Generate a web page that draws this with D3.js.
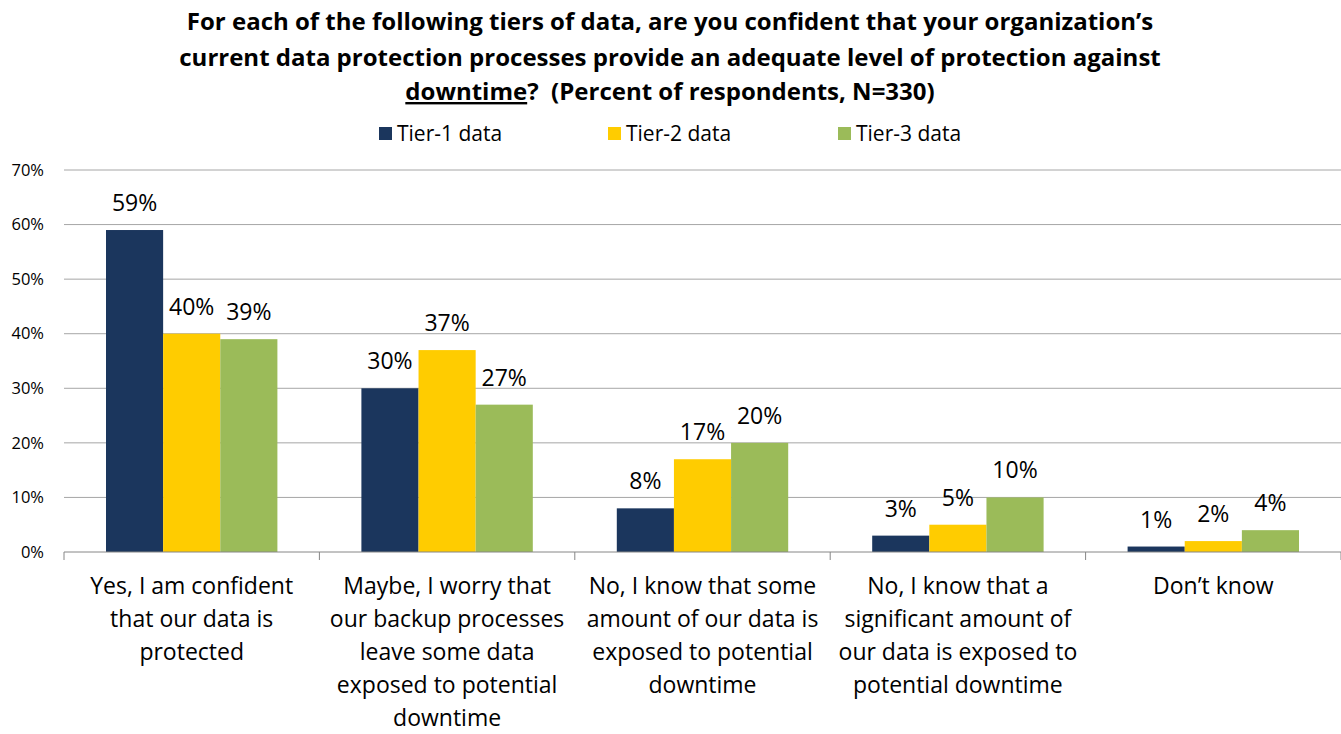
<!DOCTYPE html>
<html>
<head>
<meta charset="utf-8">
<script src="https://cdn.jsdelivr.net/npm/d3@7"></script>
<style>
  body { margin: 0; background: #fff; }
  svg { display: block; font-family: "Open Sans", sans-serif; }
</style>
</head>
<body>
<div id="chart"></div>
<script>
// data
const categories = [
    ["Yes, I am confident", "that our data is", "protected"],
    ["Maybe, I worry that", "our backup processes", "leave some data", "exposed to potential", "downtime"],
    ["No, I know that some", "amount of our data is", "exposed to potential", "downtime"],
    ["No, I know that a", "significant amount of", "our data is exposed to", "potential downtime"],
    ["Don\u2019t know"]
]
const seriesNames = ["Tier-1 data", "Tier-2 data", "Tier-3 data"]
const tier1 = [59, 30, 8, 3, 1]
const tier2 = [40, 37, 17, 5, 2]
const tier3 = [39, 27, 20, 10, 4]
const yTicks = [0, 10, 20, 30, 40, 50, 60, 70]
const colors = ["#1b365d", "#ffcc00", "#9bbb59"]

let W = 1341, H = 734
let margin = { top: 170, right: 0, bottom: 182, left: 64 }
let width = W - margin.left - margin.right
let height = H - margin.top - margin.bottom

const svg = d3.select("#chart").append("svg")
    .attr("width", W)
    .attr("height", H)

// title
const title = svg.append("text")
    .attr("text-anchor", "middle")
    .attr("font-weight", "bold")
    .attr("font-size", 24)
    .attr("fill", "#000")
title.append("tspan").attr("x", 670).attr("y", 30)
    .text("For each of the following tiers of data, are you confident that your organization\u2019s")
title.append("tspan").attr("x", 670).attr("y", 66)
    .text("current data protection processes provide an adequate level of protection against")
const t3 = title.append("tspan").attr("x", 670).attr("y", 100)
t3.append("tspan").attr("text-decoration", "underline").text("downtime")
t3.append("tspan").text("?\u00a0 (Percent of respondents, N=330)")

// legend
const legendX = [379, 608, 838]
const legend = svg.append("g")
seriesNames.forEach((name, i) => {
    legend.append("rect")
        .attr("x", legendX[i]).attr("y", 127)
        .attr("width", 13).attr("height", 13)
        .attr("fill", colors[i])
    legend.append("text")
        .attr("x", legendX[i] + 18).attr("y", 141)
        .attr("font-size", 21)
        .text(name)
})

const g = svg.append("g")
    .attr("transform", "translate(" + margin.left + "," + margin.top + ")")

let x0 = d3.scaleBand()
    .domain(d3.range(categories.length))
    .range([0, width])

let x1 = d3.scaleBand()
    .domain(d3.range(seriesNames.length))
    .range([42, x0.bandwidth() - 42])

let y = d3.scaleLinear()
    .domain([0, 70])
    .range([height, 0])

// gridlines
g.append("g")
    .selectAll("line")
    .data(yTicks.slice(1))
    .enter().append("line")
    .attr("x1", 0).attr("x2", width)
    .attr("y1", d => y(d)).attr("y2", d => y(d))
    .attr("stroke", "#a6a6a6")
    .attr("stroke-width", 1)

// y axis labels
const yAxis = g.append("g")
    .call(d3.axisLeft(y).tickValues(yTicks).tickFormat(d => d + "%").tickSize(0).tickPadding(20))
yAxis.select(".domain").remove()
yAxis.selectAll("text")
    .attr("font-size", 16.5)
    .attr("font-family", "'Open Sans', sans-serif")
    .attr("fill", "#000")

const seriesData = [tier1, tier2, tier3]

// bars
const groups = g.selectAll(".grp")
    .data(categories.map((c, i) => i))
    .enter().append("g")
    .attr("transform", d => "translate(" + x0(d) + ",0)")

groups.selectAll("rect")
    .data(ci => seriesData.map((s, si) => ({ si: si, v: s[ci] })))
    .enter().append("rect")
    .attr("x", d => x1(d.si))
    .attr("y", d => y(d.v))
    .attr("width", x1.bandwidth())
    .attr("height", d => height - y(d.v))
    .attr("fill", (d) => colors[d.si])

groups.selectAll(".lbl")
    .data(ci => seriesData.map((s, si) => ({ si: si, v: s[ci] })))
    .enter().append("text")
    .attr("x", d => x1(d.si) + x1.bandwidth() / 2)
    .attr("y", d => y(d.v) - 19)
    .attr("text-anchor", "middle")
    .attr("font-size", 23)
    .text(d => d.v + "%")

// x axis
const xAxis = g.append("g")
    .attr("transform", "translate(0," + height + ")")
xAxis.append("line")
    .attr("x1", 0).attr("x2", width)
    .attr("stroke", "#868686")
xAxis.selectAll(".tick")
    .data(d3.range(categories.length + 1))
    .enter().append("line")
    .attr("x1", d => d * x0.bandwidth()).attr("x2", d => d * x0.bandwidth())
    .attr("y1", 0).attr("y2", 8)
    .attr("stroke", "#868686")

xAxis.selectAll(".cat")
    .data(categories)
    .enter().append("text")
    .attr("text-anchor", "middle")
    .attr("font-size", 23)
    .attr("transform", (d, i) => "translate(" + (x0(i) + x0.bandwidth() / 2) + ",0)")
    .each(function (lines) {
        d3.select(this).selectAll("tspan")
            .data(lines)
            .enter().append("tspan")
            .attr("x", 0)
            .attr("y", (l, k) => 42 + k * 33)
            .text(l => l)
    })
</script>
</body>
</html>
